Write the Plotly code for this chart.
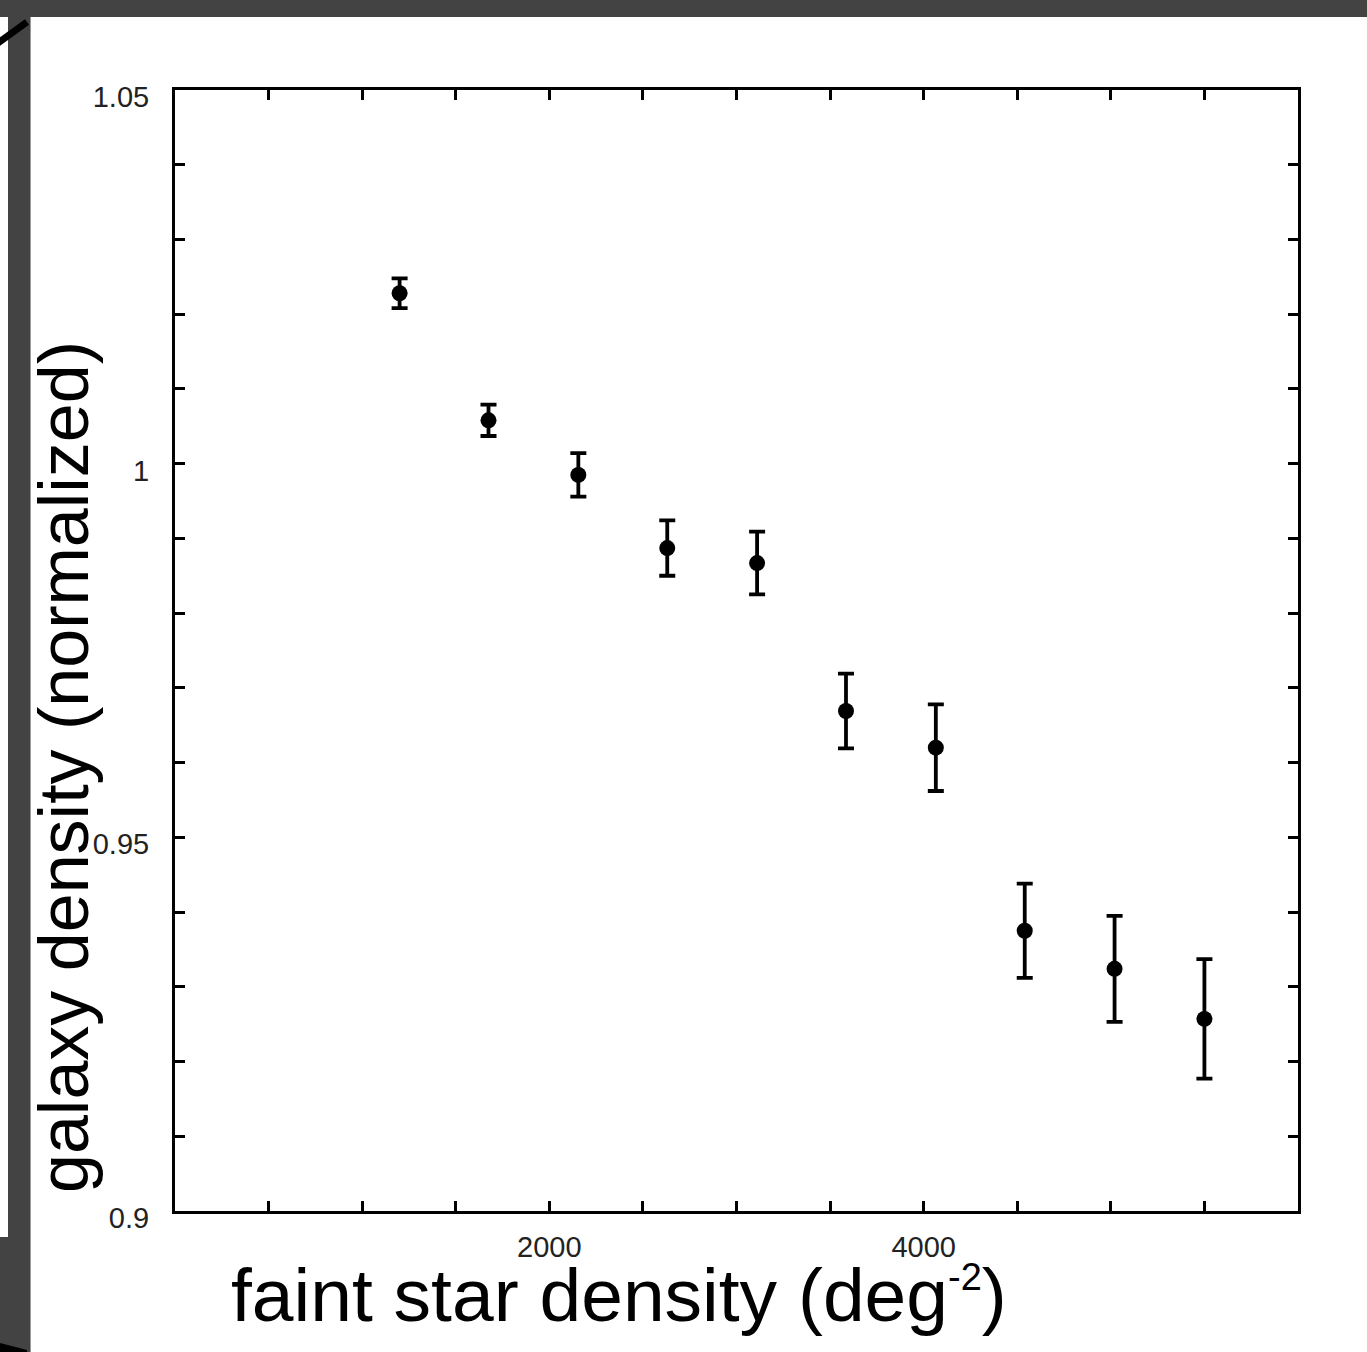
import plotly.graph_objects as go

# ---- data ----
star_density = [1200, 1675, 2155, 2630, 3110, 3585, 4065, 4540, 5020, 5500]
galaxy_density = [1.0228, 1.0058, 0.9985, 0.9887, 0.9867, 0.9669, 0.9620, 0.9375, 0.9324, 0.9257]
galaxy_err = [0.0020, 0.0021, 0.0029, 0.0037, 0.0042, 0.0050, 0.0058, 0.0063, 0.0071, 0.0080]

x_tickvals = [500, 1000, 1500, 2000, 2500, 3000, 3500, 4000, 4500, 5000, 5500]
x_ticktext = ["", "", "", "2000", "", "", "", "4000", "", "", ""]
y_tickvals = [0.90, 0.91, 0.92, 0.93, 0.94, 0.95, 0.96, 0.97, 0.98, 0.99, 1.00,
              1.01, 1.02, 1.03, 1.04, 1.05]
y_ticktext = ["0.9", "", "", "", "", "0.95", "", "", "", "", "1",
              "", "", "", "", "1.05"]

W, H = 1367, 1352
L, R, T, B = 175, 1298, 90, 1211


def px(xp):
    return (xp - L) / (R - L)


def py(yp):
    return (B - yp) / (B - T)


FONT = "Liberation Sans, Arial, Helvetica, sans-serif"
DARK = "#434343"

fig = go.Figure()
fig.add_trace(go.Scatter(
    x=star_density, y=galaxy_density,
    mode="markers",
    marker=dict(color="black", size=16, symbol="circle"),
    error_y=dict(type="data", array=galaxy_err, visible=True,
                 color="black", thickness=3.8, width=8),
    showlegend=False,
))

axis_common = dict(
    showline=True, linecolor="black", linewidth=3, mirror="ticks",
    ticks="inside", ticklen=10, tickwidth=2.5, tickcolor="black",
    showgrid=False, zeroline=False,
    tickfont=dict(family=FONT, size=29, color="#222222"),
)

fig.update_layout(
    width=W, height=H,
    margin=dict(l=L, r=W - R, t=T, b=H - B, pad=0),
    paper_bgcolor="white", plot_bgcolor="white",
    xaxis=dict(range=[0, 6000], tickmode="array", tickvals=x_tickvals,
               ticktext=x_ticktext, ticklabelstandoff=8, **axis_common),
    yaxis=dict(range=[0.9, 1.05], tickmode="array", tickvals=y_tickvals,
               ticktext=y_ticktext, ticklabelstandoff=17, ticklabelshift=7,
               **axis_common),
    font=dict(family=FONT, color="black"),
)

# axis titles as annotations
fig.add_annotation(
    text="faint star density (deg<sup><span style='font-size:38px'>-2</span></sup>)",
    xref="paper", yref="paper", x=px(619), y=py(1295),
    xanchor="center", yanchor="middle", showarrow=False,
    font=dict(family=FONT, size=75, color="black"),
)
fig.add_annotation(
    text="galaxy density (normalized)",
    xref="paper", yref="paper", x=px(64), y=py(767),
    xanchor="center", yanchor="middle", showarrow=False, textangle=-90,
    font=dict(family=FONT, size=70, color="black"),
)

# decorative slide frame (dark bands at top and left)
shapes = [
    dict(type="rect", x0=px(0), x1=px(W), y0=py(0), y1=py(17),
         fillcolor=DARK, line=dict(width=0)),
    dict(type="rect", x0=px(8), x1=px(30), y0=py(17), y1=py(1237),
         fillcolor=DARK, line=dict(width=0)),
    dict(type="rect", x0=px(0), x1=px(30), y0=py(1237), y1=py(H),
         fillcolor=DARK, line=dict(width=0)),
    dict(type="line", x0=px(30.5), x1=px(30.5), y0=py(17), y1=py(H),
         line=dict(color="#9a9a9a", width=1)),
    dict(type="line", x0=px(-2), x1=px(27), y0=py(43), y1=py(22),
         line=dict(color="black", width=7)),
    dict(type="path",
         path="M {} {} L {} {} L {} {} L {} {} Z".format(
             px(0), py(1343), px(27), py(1350), px(27), py(H), px(0), py(H)),
         fillcolor="black", line=dict(width=0)),
]
for s in shapes:
    s["xref"] = "paper"
    s["yref"] = "paper"
    s["layer"] = "above"
fig.update_layout(shapes=shapes)

fig.write_html("out.html")
